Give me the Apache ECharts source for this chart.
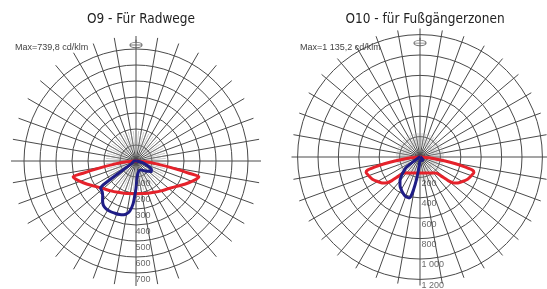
<!DOCTYPE html>
<html>
<head>
<meta charset="utf-8">
<script src="https://cdn.jsdelivr.net/npm/echarts@6/dist/echarts.min.js"></script>
<style>
  html, body { margin: 0; background: #fff; }
  #chart { width: 547px; height: 289px; }
</style>
</head>
<body>
<div id="chart"></div>
<script>
const titles = ["O9 - Für Radwege", "O10 - für Fußgängerzonen"];
const maxTexts = ["Max=739,8 cd/klm", "Max=1 135,2 cd/klm"];
const leftTicks = [100, 200, 300, 400, 500, 600, 700];
const rightTicks = [200, 400, 600, 800, 1000, 1200];

// C0-C180 plane (red), gamma from nadir, mirrored on both sides
const redGammaL = [0, 10, 20, 30, 40, 50, 60, 65, 70, 74, 76, 77, 78, 79, 80, 82, 85, 90];
const redL = [205, 207, 214, 226, 244, 268, 310, 340, 372, 398, 405, 340, 290, 240, 195, 130, 60, 0];
const redGammaR = [0, 10, 20, 30, 40, 45, 48, 50, 52, 55, 60, 65, 70, 74, 76, 78, 80, 82, 85, 90];
const redR = [157, 160, 168, 182, 205, 225, 280, 360, 410, 445, 480, 515, 535, 550, 530, 420, 300, 190, 90, 0];

// C90-C270 plane (blue), angle clockwise from nadir (0 = down, 90 = left)
const blueAngleL = [270, 285, 295, 300, 305, 310, 320, 330, 340, 350, 356, 0, 2, 4, 7, 10, 13, 17, 22, 27, 32, 36, 40, 44, 48, 52, 54, 56, 60, 70, 80, 90];
const blueL = [5, 45, 95, 112, 115, 100, 80, 65, 62, 75, 100, 170, 215, 270, 315, 335, 345, 350, 352, 354, 352, 345, 325, 300, 285, 280, 250, 80, 30, 20, 15, 10];
const blueAngleR = [270, 300, 315, 330, 345, 0, 5, 7, 9, 11, 13, 15, 18, 21, 25, 30, 35, 40, 45, 50, 53, 55, 58, 70, 90];
const blueR = [5, 15, 40, 40, 35, 40, 80, 140, 230, 320, 395, 415, 415, 410, 392, 368, 342, 305, 255, 200, 165, 80, 30, 12, 5];

const gridColor = "#4a4a4a";
const titleFont = "'DejaVu Sans Condensed', 'Open Sans', sans-serif";

function mirrored(gammas, vals) {
  const pts = [];
  for (let i = gammas.length - 1; i >= 0; i--) pts.push([vals[i], (360 - gammas[i]) % 360]);
  for (let i = 1; i < gammas.length; i++) pts.push([vals[i], gammas[i]]);
  return pts;
}
function loop(angles, vals) {
  const pts = angles.map((a, i) => [vals[i], a]);
  pts.push(pts[0]);
  return pts;
}
function fmt(v) {
  return v >= 1000 ? Math.floor(v / 1000) + " " + String(v % 1000).padStart(3, "0") : String(v);
}

function angleAxis(idx, interval, spokes, color, lineWidth) {
  return {
    polarIndex: idx, type: "value", min: 0, max: 360, interval: interval,
    startAngle: 270, clockwise: true,
    axisLine: { show: false }, axisTick: { show: false }, axisLabel: { show: false },
    splitLine: { show: spokes, lineStyle: { color: color, width: lineWidth } },
  };
}
function radiusAxis(idx, max, interval, rings) {
  return {
    polarIndex: idx, type: "value", min: 0, max: max, interval: interval,
    axisLine: { show: false }, axisTick: { show: false }, axisLabel: { show: false },
    splitLine: { show: rings, lineStyle: { color: gridColor, width: 1 } },
  };
}

const lampSymbol = "path://M0,5 C0,-1 16,-1 16,5 C16,11 0,11 0,5 Z M0,5 L16,5 M8,-4 L8,0";

const chart = echarts.init(document.getElementById("chart"));
chart.setOption({
  backgroundColor: "#fff",
  animation: false,
  title: [
    { text: titles[0], left: 136, top: 7, textAlign: "center",
      textStyle: { fontFamily: titleFont, fontSize: 13.5, fontWeight: "normal", color: "#222" } },
    { text: titles[1], left: 420, top: 7, textAlign: "center",
      textStyle: { fontFamily: titleFont, fontSize: 13.5, fontWeight: "normal", color: "#222" } },
    { text: maxTexts[0], left: 10, top: 38,
      textStyle: { fontFamily: "Liberation Sans", fontSize: 9, fontWeight: "normal", color: "#444" } },
    { text: maxTexts[1], left: 295, top: 38,
      textStyle: { fontFamily: "Liberation Sans", fontSize: 9, fontWeight: "normal", color: "#444" } },
  ],
  polar: [
    { center: [136, 161], radius: 112 },
    { center: [136, 161], radius: 125 },
    { center: [136, 161], radius: [12, 30] },
    { center: [420, 157], radius: 122.4 },
    { center: [420, 157], radius: 128.5 },
    { center: [420, 157], radius: [12, 24] },
  ],
  angleAxis: [
    angleAxis(0, 10, false, gridColor, 1),
    angleAxis(1, 10, true, gridColor, 1),
    angleAxis(2, 5, true, "#9a9a9a", 0.5),
    angleAxis(3, 10, false, gridColor, 1),
    angleAxis(4, 10, true, gridColor, 1),
    angleAxis(5, 5, true, "#9a9a9a", 0.5),
  ],
  radiusAxis: [
    radiusAxis(0, 700, 100, true),
    radiusAxis(1, 780, 100, false),
    radiusAxis(2, 100, 100, false),
    radiusAxis(3, 1200, 200, true),
    radiusAxis(4, 1260, 200, false),
    radiusAxis(5, 100, 100, false),
  ],
  series: [
    { type: "line", coordinateSystem: "polar", polarIndex: 0, data: mirrored(redGammaL, redL),
      showSymbol: false, smooth: 0.2, lineStyle: { color: "#e5222b", width: 3 }, z: 3 },
    { type: "line", coordinateSystem: "polar", polarIndex: 0, data: loop(blueAngleL, blueL),
      showSymbol: false, smooth: 0.3, lineStyle: { color: "#1f1d86", width: 3 }, z: 4 },
    { type: "line", coordinateSystem: "polar", polarIndex: 3, data: mirrored(redGammaR, redR),
      showSymbol: false, smooth: 0.2, lineStyle: { color: "#e5222b", width: 3 }, z: 3 },
    { type: "line", coordinateSystem: "polar", polarIndex: 3, data: loop(blueAngleR, blueR),
      showSymbol: false, smooth: 0.3, lineStyle: { color: "#1f1d86", width: 3 }, z: 4 },
    { type: "scatter", coordinateSystem: "polar", polarIndex: 0, data: leftTicks.map(v => [v, 0]),
      symbolSize: 1, itemStyle: { color: "rgba(0,0,0,0)" }, z: 5,
      label: { show: true, position: "right", distance: 0, offset: [-1, 7], formatter: p => fmt(p.value[0]),
        fontFamily: "Liberation Sans", fontSize: 9, color: "#444" } },
    { type: "scatter", coordinateSystem: "polar", polarIndex: 3, data: rightTicks.map(v => [v, 0]),
      symbolSize: 1, itemStyle: { color: "rgba(0,0,0,0)" }, z: 5,
      label: { show: true, position: "right", distance: 0, offset: [1, 6], formatter: p => fmt(p.value[0]),
        fontFamily: "Liberation Sans", fontSize: 9, color: "#444" } },
    { type: "scatter", coordinateSystem: "polar", polarIndex: 1, data: [[732, 180]],
      symbol: lampSymbol, symbolSize: [12, 8], z: 5,
      itemStyle: { color: "rgba(0,0,0,0)", borderColor: "#555", borderWidth: 1 } },
    { type: "scatter", coordinateSystem: "polar", polarIndex: 4, data: [[1130, 180]],
      symbol: lampSymbol, symbolSize: [12, 8], z: 5,
      itemStyle: { color: "rgba(0,0,0,0)", borderColor: "#555", borderWidth: 1 } },
  ],
});
</script>
</body>
</html>
